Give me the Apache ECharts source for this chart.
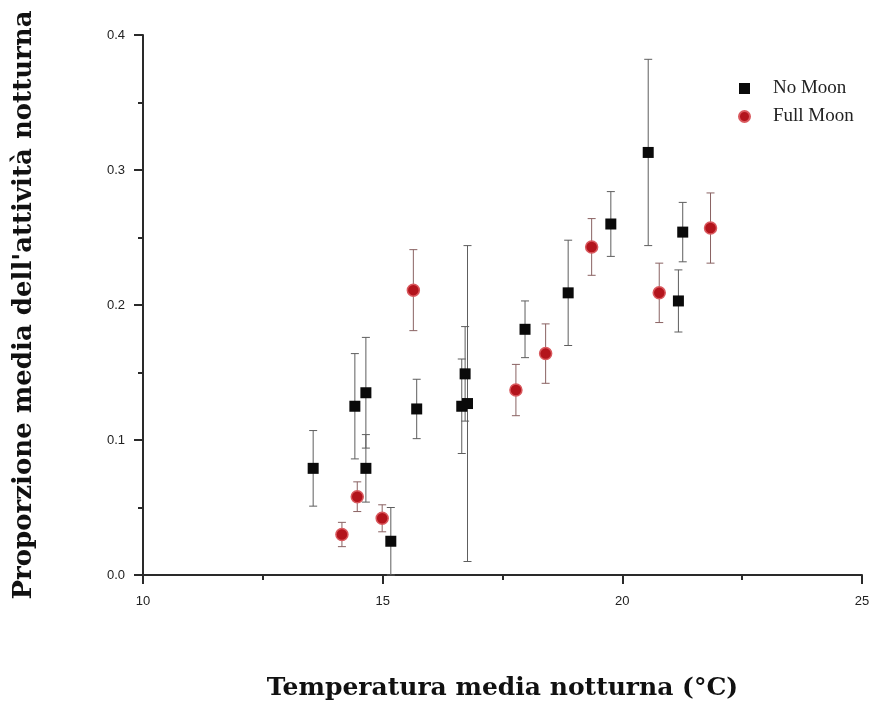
<!DOCTYPE html>
<html>
<head>
<meta charset="utf-8">
<script src="https://cdn.jsdelivr.net/npm/echarts@6/dist/echarts.min.js"></script>
<style>
  html, body { margin: 0; padding: 0; background: #fff; }
  #chart { width: 875px; height: 707px; }
</style>
</head>
<body>
<div id="chart"></div>
<script>
// Mean nocturnal temperature (°C), mean proportion of nocturnal activity, and error (±)
const noMoonTemp  = [13.55, 14.42, 14.65, 14.65, 15.17, 15.71, 16.65, 16.72, 16.77, 17.97, 18.87, 19.76, 20.54, 21.17, 21.26];
const noMoonValue = [0.079, 0.125, 0.135, 0.079, 0.025, 0.123, 0.125, 0.149, 0.127, 0.182, 0.209, 0.260, 0.313, 0.203, 0.254];
const noMoonErr   = [0.028, 0.039, 0.041, 0.025, 0.025, 0.022, 0.035, 0.035, 0.117, 0.021, 0.039, 0.024, 0.069, 0.023, 0.022];

const fullMoonTemp  = [14.15, 14.47, 14.99, 15.64, 17.78, 18.40, 19.36, 20.77, 21.84];
const fullMoonValue = [0.030, 0.058, 0.042, 0.211, 0.137, 0.164, 0.243, 0.209, 0.257];
const fullMoonErr   = [0.009, 0.011, 0.010, 0.030, 0.019, 0.022, 0.021, 0.022, 0.026];

const xTicks = [10, 15, 20, 25];
const yTicks = [0.0, 0.1, 0.2, 0.3, 0.4];

const seriesNames = ['No Moon', 'Full Moon'];

function points(xs, ys) { return xs.map((x, i) => [x, ys[i]]); }
function bars(xs, ys, es) { return xs.map((x, i) => [x, ys[i] - es[i], ys[i] + es[i]]); }

// Vertical error bar with short caps, positioned through the axis scales
function errorBar(color) {
  return function (params, api) {
    const x = api.value(0);
    const lo = api.coord([x, api.value(1)]);
    const hi = api.coord([x, api.value(2)]);
    const w = 4;
    const style = { stroke: color, lineWidth: 1 };
    return {
      type: 'group',
      children: [
        { type: 'line', shape: { x1: lo[0], y1: lo[1], x2: hi[0], y2: hi[1] }, style },
        { type: 'line', shape: { x1: lo[0] - w, y1: lo[1], x2: lo[0] + w, y2: lo[1] }, style },
        { type: 'line', shape: { x1: hi[0] - w, y1: hi[1], x2: hi[0] + w, y2: hi[1] }, style }
      ]
    };
  };
}

const axisColor = '#2a2a2a';
const chart = echarts.init(document.getElementById('chart'), null, { renderer: 'canvas' });

chart.setOption({
  backgroundColor: '#ffffff',
  animation: false,
  grid: { left: 143, right: 13, top: 35, bottom: 132, containLabel: false, outerBoundsMode: 'none' },
  legend: {
    orient: 'vertical',
    left: 733,
    top: 74,
    itemWidth: 11,
    itemHeight: 11,
    itemGap: 9,
    data: [
      { name: seriesNames[0], icon: 'rect' },
      { name: seriesNames[1], icon: 'circle' }
    ],
    textStyle: { fontFamily: 'Liberation Serif', fontSize: 19, color: '#222', padding: [0, 0, 0, 18] }
  },
  xAxis: {
    type: 'value',
    min: xTicks[0],
    max: xTicks[xTicks.length - 1],
    interval: 5,
    name: 'Temperatura media notturna (°C)',
    nameLocation: 'middle',
    nameGap: 101,
    nameTextStyle: { fontFamily: 'DejaVu Serif', fontWeight: 'bold', fontSize: 25, color: '#111', padding: [0, 0, 0, 0] },
    axisLine: { onZero: false, lineStyle: { color: axisColor, width: 2 } },
    axisTick: { show: true, inside: false, length: 9, lineStyle: { color: axisColor, width: 2 } },
    minorTick: { show: true, splitNumber: 2, length: 5, lineStyle: { color: axisColor, width: 2 } },
    axisLabel: { margin: 20, fontFamily: 'Liberation Sans', fontSize: 13, color: '#222' },
    splitLine: { show: false }
  },
  yAxis: {
    type: 'value',
    min: yTicks[0],
    max: yTicks[yTicks.length - 1],
    interval: 0.1,
    name: "Proporzione media dell'attività notturna",
    nameLocation: 'middle',
    nameGap: 106,
    nameRotate: 90,
    nameTextStyle: { fontFamily: 'DejaVu Serif', fontWeight: 'bold', fontSize: 26, color: '#111' },
    axisLine: { onZero: false, lineStyle: { color: axisColor, width: 2 } },
    axisTick: { show: true, inside: false, length: 9, lineStyle: { color: axisColor, width: 2 } },
    minorTick: { show: true, splitNumber: 2, length: 5, lineStyle: { color: axisColor, width: 2 } },
    axisLabel: { margin: 18, fontFamily: 'Liberation Sans', fontSize: 13, color: '#222', formatter: v => v.toFixed(1) },
    splitLine: { show: false }
  },
  series: [
    {
      type: 'custom',
      name: seriesNames[0] + ' err',
      renderItem: errorBar('#5e5e5e'),
      data: bars(noMoonTemp, noMoonValue, noMoonErr),
      encode: { x: 0, y: [1, 2] },
      z: 1,
      silent: true
    },
    {
      type: 'custom',
      name: seriesNames[1] + ' err',
      renderItem: errorBar('#8a6262'),
      data: bars(fullMoonTemp, fullMoonValue, fullMoonErr),
      encode: { x: 0, y: [1, 2] },
      z: 1,
      silent: true
    },
    {
      type: 'scatter',
      name: seriesNames[0],
      symbol: 'rect',
      symbolSize: 11,
      itemStyle: { color: '#0a0a0a', opacity: 1 },
      data: points(noMoonTemp, noMoonValue),
      z: 3
    },
    {
      type: 'scatter',
      name: seriesNames[1],
      symbol: 'circle',
      symbolSize: 12,
      itemStyle: { color: '#b3141c', borderColor: '#d9595e', borderWidth: 1.5, opacity: 1 },
      data: points(fullMoonTemp, fullMoonValue),
      z: 3
    }
  ]
});
</script>
</body>
</html>
